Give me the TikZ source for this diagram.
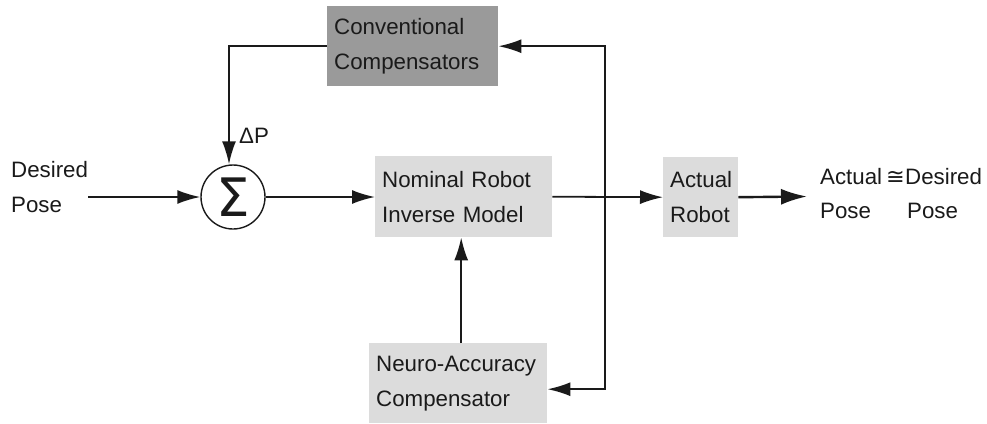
\documentclass[tikz,border=0pt]{standalone}
\usepackage{fontspec}
\setmainfont{Liberation Sans}
\newfontfamily\symfont{DejaVu Sans}
\usetikzlibrary{arrows.meta}
\definecolor{darkbox}{HTML}{9A9A9A}
\definecolor{lightbox}{HTML}{DCDCDC}
\definecolor{ink}{HTML}{1A1A1A}
\begin{document}
\begin{tikzpicture}[x=1pt,y=-1pt,
  every node/.style={font=\fontsize{22.3}{35}\selectfont, text=ink},
  box/.style={rectangle, draw=none, inner xsep=7pt, inner ysep=0pt, align=left, anchor=north west},
  lbl/.style={inner sep=0pt, align=left},
  arr/.style={-{Latex[length=23pt,width=14pt]}, line width=1.8pt, draw=ink}]
\useasboundingbox (0,0) rectangle (987,423);
% blocks
\node[box, fill=darkbox, text width=157pt, minimum height=80pt] (conv) at (327,6) {Conventional\\Compensators};
\node[box, fill=lightbox, text width=163pt, minimum height=81pt] (nom) at (375,156) {Nominal Robot\\Inverse Model};
\node[box, fill=lightbox, text width=61pt, minimum height=80pt] (act) at (663,157) {Actual\\Robot};
\node[box, fill=lightbox, text width=164pt, minimum height=80pt] (neuro) at (369,343) {Neuro-Accuracy\\Compensator};
\node[circle, draw=ink, line width=1.4pt, minimum size=64pt, inner sep=0pt] (sum) at (233,197) {\symfont\fontsize{53}{53}\selectfont Σ};
% texts
\node[lbl, anchor=west] (des) at (11,187.5) {Desired\\Pose};
\node[lbl, anchor=west] (dp) at (239,136) {ΔP};
\node[lbl, anchor=base west] (oa) at (820,184) {Actual};
\node[lbl, anchor=base west] (op) at (820,218) {Pose};
\node[lbl, anchor=base west] (cong) at (886,184) {\symfont ≅};
\node[lbl, anchor=base west] (od) at (905,184) {Desired};
\node[lbl, anchor=base west] (op2) at (907,218) {Pose};
\coordinate (outend) at (807,196.5);
\coordinate (fb) at (605,196.5);
% connectors
\draw[arr] (des.east |- sum.west) -- (sum.west);
\draw[arr] (sum.east) -- (sum.east -| nom.west);
\draw[arr] (nom.east) -- (act.west);
\draw[arr, line width=2.4pt, -{Latex[length=26pt,width=16pt]}] (act.east) -- (outend);
\draw[arr] (conv.west) -| ([xshift=-4pt]sum.north);
\draw[arr] (fb) |- (conv.east);
\draw[arr] (fb) |- ([yshift=-6pt]neuro.east);
\draw[arr] ([xshift=3pt]neuro.north) -- ([xshift=3pt]neuro.north |- nom.south);
\end{tikzpicture}
\end{document}
